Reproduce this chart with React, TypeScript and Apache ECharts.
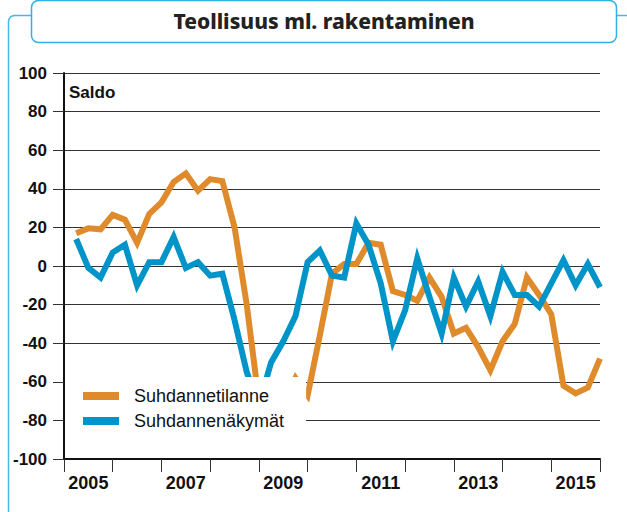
import React, { useEffect, useRef } from "react";
import * as echarts from "echarts";

const years = ["2005", "2006", "2007", "2008", "2009", "2010", "2011", "2012", "2013", "2014", "2015"];
const yTicks = [-100, -80, -60, -40, -20, 0, 20, 40, 60, 80, 100];

const tilanne = [
  17, 19.5, 19, 26.5, 24, 12, 27, 33, 43.5, 48, 39, 45,
  44, 20, -20, -70, -75, -72, -58, -67, -36, -4, 1, 1,
  12, 11, -13, -15, -18, -6, -16, -35, -32, -42, -54, -39,
  -30, -6, -15, -25, -62, -66, -63, -48,
];
const nakymat = [
  14, -1, -6, 7, 11, -10, 2, 2, 15, -1, 2, -5,
  -4, -28, -55, -72, -50, -39, -26, 2, 8, -5, -6, 22,
  11, -9, -39, -23, 4, -16, -35, -6, -21, -8, -26, -3,
  -15, -15, -21, -9, 3, -10, 1, -11,
];

const seriesNames = ["Suhdannetilanne", "Suhdannenäkymät"];
const seriesColors = ["#e08b2b", "#0094c9"];
const FONT = '"Liberation Sans", Arial, sans-serif';

export default function App() {
  const ref = useRef<HTMLDivElement>(null);
  useEffect(() => {
    if (!ref.current) return;
    const chart = echarts.init(ref.current, null, { renderer: "svg" });
    const toPairs = (arr: number[]) => arr.map((v, i) => [i + 1, v]);
    const frame = "#45b8e8";
    chart.setOption({
      animation: false,
      backgroundColor: "#fff",
      grid: { left: 64, right: 27, top: 73, bottom: 53 },
      xAxis: [
        {
          type: "value",
          min: 0,
          max: years.length * 4,
          interval: 4,
          axisLine: { show: true, onZero: false, lineStyle: { color: "#111", width: 2 } },
          axisTick: { show: true, length: 13, lineStyle: { color: "#333", width: 1 } },
          axisLabel: { show: false },
          splitLine: { show: false },
        },
        {
          type: "category",
          data: years,
          boundaryGap: true,
          position: "bottom",
          axisLine: { show: false, onZero: false },
          axisTick: { show: false },
          splitLine: { show: false },
          axisLabel: {
            interval: 1,
            margin: 15,
            color: "#111",
            fontWeight: "bold",
            fontSize: 18,
            fontFamily: FONT,
          },
        },
      ],
      yAxis: {
        type: "value",
        min: yTicks[0],
        max: yTicks[yTicks.length - 1],
        interval: 20,
        axisLine: { show: true, lineStyle: { color: "#111", width: 2 } },
        axisTick: { show: true, length: 11, lineStyle: { color: "#333" } },
        axisLabel: {
          margin: 17,
          color: "#111",
          fontWeight: "bold",
          fontSize: 17,
          fontFamily: FONT,
        },
        splitLine: { show: true, lineStyle: { color: "#333", width: 1 } },
      },
      legend: {
        orient: "vertical",
        left: 65,
        top: 377,
        backgroundColor: "#fff",
        padding: [10, 22, 12, 18],
        itemGap: 7,
        itemWidth: 36,
        itemHeight: 8,
        icon: "rect",
        z: 10,
        textStyle: { fontSize: 18, color: "#111", fontFamily: FONT, padding: [0, 0, 0, 10] },
        data: seriesNames,
      },
      series: [
        {
          name: seriesNames[0],
          type: "line",
          xAxisIndex: 0,
          data: toPairs(tilanne),
          showSymbol: false,
          symbol: "none",
          itemStyle: { color: seriesColors[0] },
          lineStyle: { color: seriesColors[0], width: 6, join: "miter" },
          z: 2,
        },
        {
          name: seriesNames[1],
          type: "line",
          xAxisIndex: 0,
          data: toPairs(nakymat),
          showSymbol: false,
          symbol: "none",
          itemStyle: { color: seriesColors[1] },
          lineStyle: { color: seriesColors[1], width: 6, join: "miter" },
          z: 3,
        },
      ],
      graphic: [
        { type: "line", shape: { x1: 14, y1: 15.5, x2: 31, y2: 15.5 }, style: { stroke: frame, lineWidth: 1.5 } },
        { type: "arc", shape: { cx: 14.5, cy: 21.5, r: 6, startAngle: Math.PI, endAngle: Math.PI * 1.5 }, style: { stroke: frame, lineWidth: 1.5, fill: null } },
        { type: "line", shape: { x1: 8.5, y1: 21, x2: 8.5, y2: 512 }, style: { stroke: frame, lineWidth: 1.5 } },
        { type: "line", shape: { x1: 617, y1: 15.5, x2: 627, y2: 15.5 }, style: { stroke: frame, lineWidth: 1.5 } },
        {
          type: "rect",
          shape: { x: 31.5, y: 0.5, width: 585, height: 42, r: 7 },
          style: { fill: "#fff", stroke: "#2fb0e6", lineWidth: 1.5 },
        },
        {
          type: "text",
          x: 324,
          y: 21,
          style: {
            text: "Teollisuus ml. rakentaminen",
            fill: "#222",
            font: '800 21px "Noto Sans", sans-serif',
            textAlign: "center",
            textVerticalAlign: "middle",
          },
        },
        {
          type: "text",
          x: 69,
          y: 92,
          style: {
            text: "Saldo",
            fill: "#111",
            font: 'bold 17px "Liberation Sans", Arial, sans-serif',
            textAlign: "left",
            textVerticalAlign: "middle",
          },
        },
      ],
    });
    return () => chart.dispose();
  }, []);
  return (
    <div
      ref={ref}
      style={{ position: "fixed", left: 0, top: 0, width: 627, height: 512 }}
    />
  );
}
